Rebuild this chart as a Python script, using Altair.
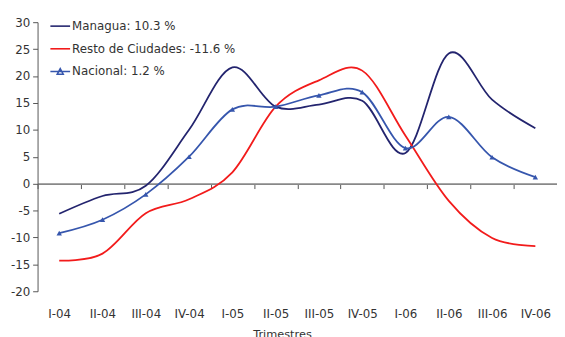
import altair as alt
import pandas as pd

quarters = ["I-04", "II-04", "III-04", "IV-04", "I-05", "II-05",
            "III-05", "IV-05", "I-06", "II-06", "III-06", "IV-06"]
series_names = ["Managua", "Resto de Ciudades", "Nacional"]
series_totals = ["10.3", "-11.6", "1.2"]
managua = [-5.6, -2.3, -0.4, 10.0, 21.6, 14.3, 14.7, 15.4, 5.7, 24.2, 15.6, 10.3]
resto = [-14.3, -13.0, -5.5, -2.9, 2.1, 14.3, 19.2, 21.0, 8.9, -3.2, -10.1, -11.6]
nacional = [-9.2, -6.7, -2.0, 5.0, 13.8, 14.3, 16.4, 17.0, 6.6, 12.4, 4.9, 1.2]
colors = ["#23246E", "#F21B1B", "#3656AD"]

labels = [f"{n}: {t} %" for n, t in zip(series_names, series_totals)]
rows = []
for lab, vals in zip(labels, [managua, resto, nacional]):
    for q, v in zip(quarters, vals):
        rows.append({"q": q, "v": v, "s": lab})
df = pd.DataFrame(rows)

FONT = "DejaVu Sans"
W, H = 527, 273

x_enc = alt.X("q:N", sort=quarters, bandPosition=0.5,
              scale=alt.Scale(type="band", domain=quarters, paddingInner=0, paddingOuter=0),
              axis=alt.Axis(title="Trimestres", tickBand="extent", offset=-109.2,
                            domainColor="#888888", domainWidth=2, tickColor="#555555",
                            tickSize=5, tickWidth=1, labelPadding=122, labelAngle=0,
                            labelFont=FONT, labelFontSize=12, labelColor="#333333",
                            titleFont=FONT, titleFontSize=11.5, titleFontWeight="normal",
                            titleColor="#333333", titlePadding=9, titleX=248))
y_enc = alt.Y("v:Q", scale=alt.Scale(domain=[-20, 30], nice=False, zero=False),
              axis=alt.Axis(title=None, values=list(range(-20, 31, 5)), grid=False,
                            labelExpr="'' + datum.value",
                            domainColor="#555555", tickColor="#555555", tickSize=5,
                            labelPadding=3, labelFont=FONT, labelFontSize=12,
                            labelColor="#333333"))

leg = alt.Legend(orient="none", legendX=12, legendY=-7, title=None,
                 symbolType="stroke", symbolSize=400, symbolStrokeWidth=1.6,
                 symbolFillColor=colors[2], symbolOpacity=1, labelLimit=400,
                 labelOffset=1, rowPadding=6, labelFont=FONT,
                 labelFontSize=12, labelColor="#333333")

lines = alt.Chart(df).mark_line(interpolate="cardinal", strokeWidth=1.8).encode(
    x=x_enc, y=y_enc,
    stroke=alt.Stroke("s:N", scale=alt.Scale(domain=labels, range=colors), legend=leg),
)

points = alt.Chart(df[df["s"] == labels[2]]).mark_point(
    shape="triangle-up", filled=True, size=30, opacity=1, color=colors[2]
).encode(x=x_enc, y=y_enc)

shapes = ["M-1,0H1", "M-1,0H1", "M-1,0H1M-0.3,0.28L0,-0.28L0.3,0.28Z"]
legend_layer = alt.Chart(df).mark_point(filled=False, strokeWidth=1.6, opacity=0).encode(
    x=x_enc, y=y_enc,
    color=alt.Color("s:N", scale=alt.Scale(domain=labels, range=colors), legend=leg),
    shape=alt.Shape("s:N", scale=alt.Scale(domain=labels, range=shapes), legend=leg),
)

chart = alt.layer(lines, points, legend_layer).properties(
    width=W, height=H,
    autosize=alt.AutoSizeParams(type="none"),
    padding={"left": 30, "top": 12, "right": 0, "bottom": 44},
    background="white",
).configure_view(stroke=None)

chart.save("out.html", embed_options={"renderer": "svg", "actions": False})
